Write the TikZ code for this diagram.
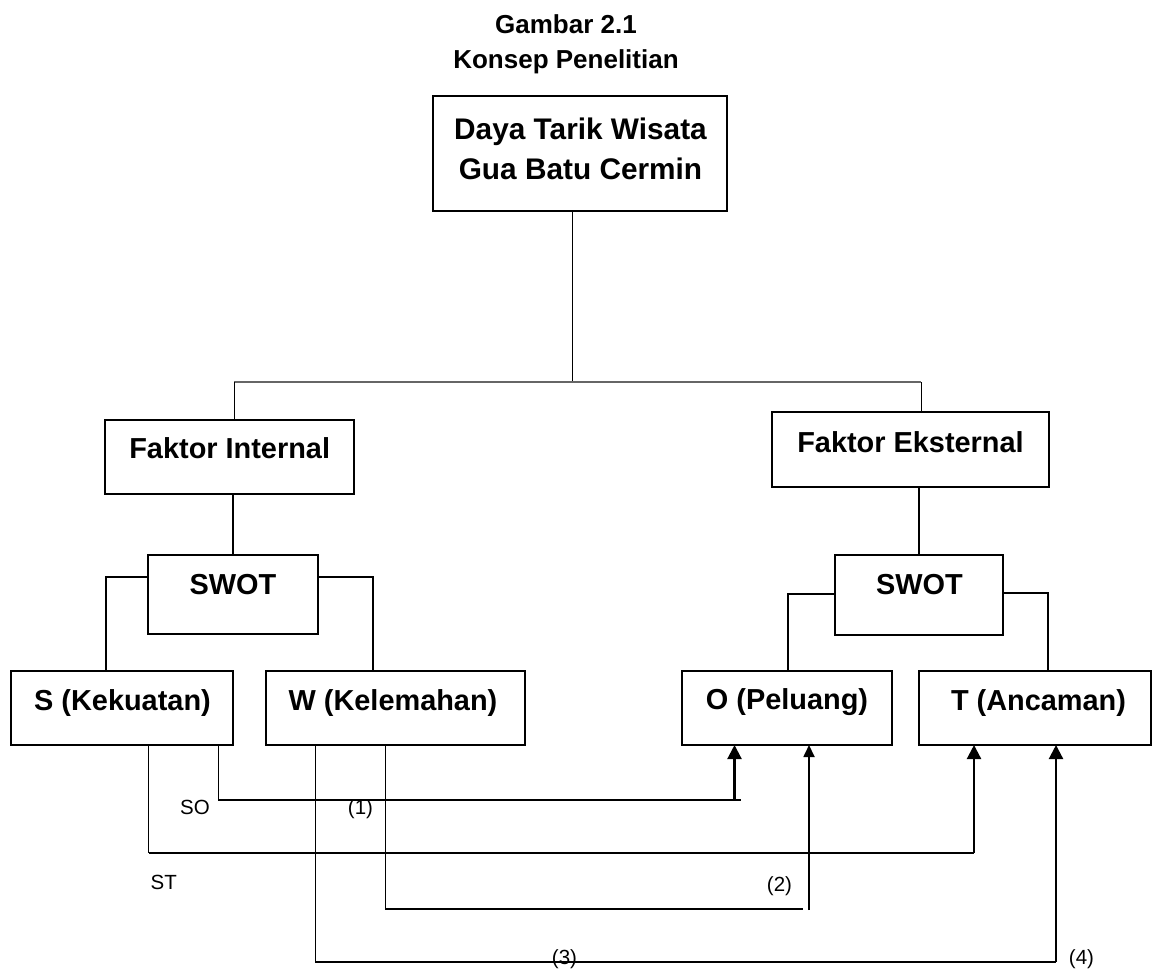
\documentclass[tikz,border=0pt]{standalone}
\usepackage{fontspec}
\setmainfont{Liberation Sans}
\usetikzlibrary{arrows.meta,fit}
\begin{document}
\begin{tikzpicture}[x=0.5pt,y=-0.5pt,
  box/.style={draw, line width=0.75pt, rectangle, inner sep=0pt, outer sep=0pt},
  ttl/.style={anchor=base, inner sep=0pt, font=\fontsize{13}{15}\selectfont\bfseries},
  bigtxt/.style={anchor=base, inner sep=0pt, font=\fontsize{14.9}{18}\selectfont\bfseries},
  btxt/.style={anchor=base, inner sep=0pt, font=\fontsize{14.45}{17}\selectfont\bfseries},
  lbl/.style={anchor=base, inner sep=0pt, font=\fontsize{10.25}{12}\selectfont},
  thin/.style={line width=0.5pt},
  conn/.style={line width=0.7pt},
  arr/.style={line width=1.1pt, -{Triangle[length=7pt,width=7pt]}},
  arrs/.style={line width=0.9pt, -{Triangle[length=6pt,width=5.5pt]}}
]
\useasboundingbox (0,0) rectangle (1154,969);

% title
\node[ttl] (t1) at (566,33.3) {Gambar 2.1};
\node[ttl] (t2) at (566,68.3) {Konsep Penelitian};

% boxes
\node[box, fit={(433,96) (727,211)}] (top) {};
\node[bigtxt] (top-a) at (580.5,139) {Daya Tarik Wisata};
\node[bigtxt] (top-b) at (580.5,179) {Gua Batu Cermin};

\node[box, fit={(105,420) (354,494)}] (fi) {};
\node[btxt] (fi-t) at (229.7,458.3) {Faktor Internal};

\node[box, fit={(772,412) (1049,487)}] (fe) {};
\node[btxt] (fe-t) at (910.5,452.7) {Faktor Eksternal};

\node[box, fit={(148,555) (318,634)}] (swl) {};
\node[btxt] (swl-t) at (233,594) {SWOT};

\node[box, fit={(835,555) (1003,635)}] (swr) {};
\node[btxt] (swr-t) at (919.5,594) {SWOT};

\node[box, fit={(11,671) (233,745)}] (S) {};
\node[btxt] (S-t) at (122.5,710) {S (Kekuatan)};

\node[box, fit={(266,671) (525,745)}] (W) {};
\node[btxt] (W-t) at (393,710) {W (Kelemahan)};

\node[box, fit={(682,671) (892,745)}] (O) {};
\node[btxt] (O-t) at (787,709) {O (Peluang)};

\node[box, fit={(919,671) (1151,745)}] (T) {};
\node[btxt] (T-t) at (1038.5,710) {T (Ancaman)};

% top tree
\coordinate (j) at (572,382);
\coordinate (hl) at (234,382);
\coordinate (hr) at (921,382);
\draw[thin] (j |- top.south) -- (j);
\draw[line width=0.75pt, black!60] (hl) -- (hr);
\draw[thin] (hl) -- (hl |- fi.north);
\draw[thin] (hr) -- (hr |- fe.north);

\draw[conn] (swl.north |- fi.south) -- (swl.north);
\draw[conn] (swr.north |- fe.south) -- (swr.north);

% SWOT branches
\coordinate (sl) at (106,577);
\coordinate (sr) at (373,577);
\coordinate (ol) at (788,594);
\coordinate (tr) at (1048,593);
\draw[conn] (sl -| swl.west) -- (sl) -- (sl |- S.north);
\draw[conn] (sr -| swl.east) -- (sr) -- (sr |- W.north);
\draw[conn] (ol -| swr.west) -- (ol) -- (ol |- O.north);
\draw[conn] (tr -| swr.east) -- (tr) -- (tr |- T.north);

% strategy lines
\coordinate (so1) at (218.5,800);
\coordinate (so2) at (741,800);
\coordinate (so3) at (734.5,800);
\draw[conn] (so1 |- S.south) -- (so1) -- (so2);
\draw[arr] (so3) -- (so3 |- O.south);

\coordinate (st1) at (148.5,853);
\coordinate (st2) at (974,853);
\draw[thin] (st1 |- S.south) -- (st1);
\draw[conn] (st1) -- (st2);
\draw[arr] (st2) -- (st2 |- T.south);

\coordinate (wo1) at (385.4,909);
\coordinate (wo2) at (803,909);
\coordinate (wo3) at (809,910);
\draw[conn] (wo1 |- W.south) -- (wo1) -- (wo2);
\draw[arrs] (wo3) -- (wo3 |- O.south);

\coordinate (wt1) at (315.3,962);
\coordinate (wt2) at (1056,962);
\draw[conn] (wt1 |- W.south) -- (wt1) -- (wt2);
\draw[arr] (wt2) -- (wt2 |- T.south);

% labels
\node[lbl] (lso) at (195,814) {SO};
\node[lbl] (l1) at (360.5,814) {(1)};
\node[lbl] (lst) at (163.8,889.3) {ST};
\node[lbl] (l2) at (779.5,891.7) {(2)};
\node[lbl] (l3) at (564.5,964) {(3)};
\node[lbl] (l4) at (1081.5,964) {(4)};
\end{tikzpicture}
\end{document}
